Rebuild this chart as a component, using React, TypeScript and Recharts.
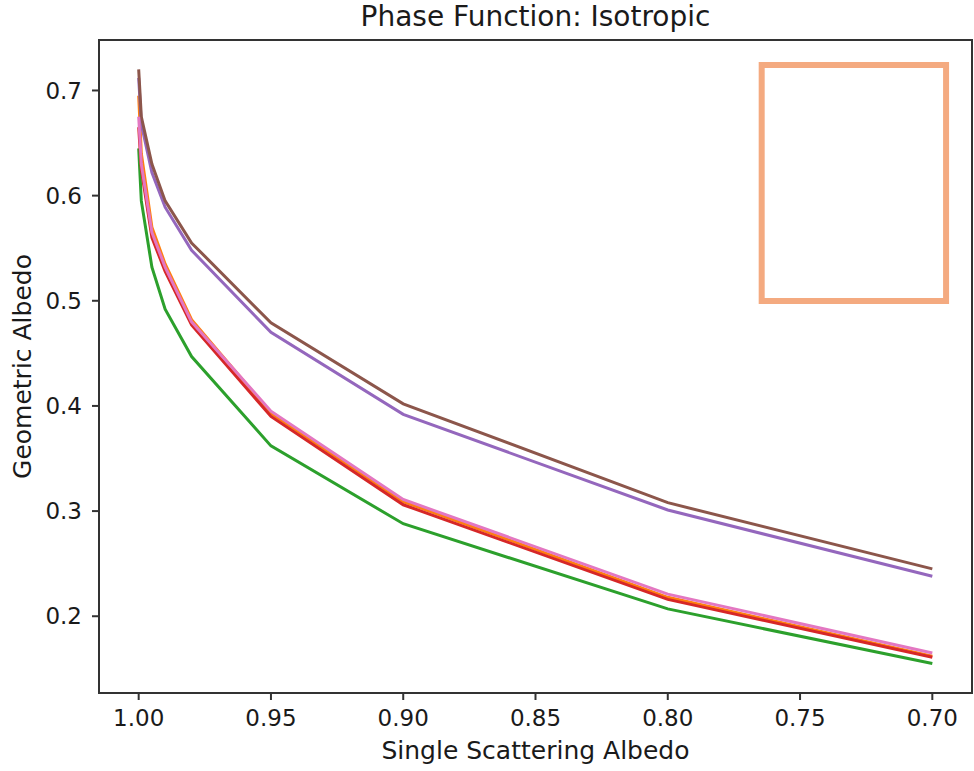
import { LineChart, Line, XAxis, YAxis, ReferenceArea } from 'recharts';

// single scattering albedo (x) sampled points
const ssa = [1.0, 0.999, 0.995, 0.99, 0.98, 0.95, 0.9, 0.8, 0.7];

// geometric albedo per run
const orangeVals = [0.695, 0.64, 0.57, 0.535, 0.482, 0.393, 0.309, 0.218, 0.162];
const greenVals = [0.645, 0.595, 0.532, 0.492, 0.447, 0.362, 0.288, 0.207, 0.155];
const redVals = [0.665, 0.625, 0.56, 0.528, 0.477, 0.39, 0.306, 0.216, 0.161];
const purpleVals = [0.712, 0.668, 0.622, 0.589, 0.548, 0.47, 0.392, 0.301, 0.238];
const brownVals = [0.72, 0.675, 0.63, 0.595, 0.555, 0.479, 0.402, 0.308, 0.245];
const pinkVals = [0.675, 0.63, 0.565, 0.532, 0.48, 0.395, 0.311, 0.221, 0.165];

const xTicks = [1.0, 0.95, 0.9, 0.85, 0.8, 0.75, 0.7];
const yTicks = [0.2, 0.3, 0.4, 0.5, 0.6, 0.7];

const xDomain = [0.685, 1.015];
const yDomain = [0.127, 0.748];

const series = [
  { key: 'orange', color: '#ff7f0e', vals: orangeVals },
  { key: 'green', color: '#2ca02c', vals: greenVals },
  { key: 'red', color: '#d62728', vals: redVals },
  { key: 'purple', color: '#9467bd', vals: purpleVals },
  { key: 'brown', color: '#8c564b', vals: brownVals },
  { key: 'pink', color: '#e377c2', vals: pinkVals },
];

const data = ssa.map((x, i) => {
  const row: Record<string, number> = { x };
  series.forEach(s => {
    row[s.key] = s.vals[i];
  });
  return row;
});

const font = '"DejaVu Sans", sans-serif';
const frame = '#333';
const ink = '#1a1a1a';

export default function App() {
  return (
    <div style={{ position: 'absolute', left: 0, top: 0, width: 974, height: 771, background: '#fff', fontFamily: font }}>
      {/* ===== TITLE ===== */}
      <div
        style={{
          position: 'absolute',
          left: 99,
          width: 873,
          top: 0,
          textAlign: 'center',
          fontSize: 28,
          lineHeight: '34px',
          color: ink,
        }}
      >
        Phase Function: Isotropic
      </div>

      <LineChart
        width={974}
        height={771}
        data={data}
        margin={{ top: 40, right: 2, left: 0, bottom: 0 }}
      >
        <XAxis
          dataKey="x"
          type="number"
          domain={xDomain}
          reversed
          ticks={xTicks}
          tickFormatter={(v: number) => v.toFixed(2)}
          allowDataOverflow
          height={78}
          stroke={frame}
          strokeWidth={2}
          tick={{ fill: ink, fontSize: 23, fontFamily: font }}
          tickSize={7}
          tickMargin={10}
          label={{
            value: 'Single Scattering Albedo',
            position: 'insideBottom',
            offset: 12,
            style: { fill: ink, fontSize: 25, fontFamily: font },
          }}
        />
        <YAxis
          type="number"
          domain={yDomain}
          ticks={yTicks}
          tickFormatter={(v: number) => v.toFixed(1)}
          allowDataOverflow
          width={99}
          stroke={frame}
          strokeWidth={2}
          tick={{ fill: ink, fontSize: 23, fontFamily: font }}
          tickSize={7}
          tickMargin={10}
          label={{
            value: 'Geometric Albedo',
            angle: -90,
            position: 'insideLeft',
            offset: 22,
            style: { textAnchor: 'middle', fill: ink, fontSize: 25, fontFamily: font },
          }}
        />

        {series.map(s => (
          <Line
            key={s.key}
            dataKey={s.key}
            stroke={s.color}
            strokeWidth={3}
            dot={false}
            type="linear"
            isAnimationActive={false}
          />
        ))}

        {/* plot frame */}
        <ReferenceArea
          x1={xDomain[1]}
          x2={xDomain[0]}
          y1={yDomain[0]}
          y2={yDomain[1]}
          fill="none"
          stroke={frame}
          strokeWidth={2}
          ifOverflow="visible"
        />

        {/* empty legend-like box */}
        <ReferenceArea
          x1={0.7645}
          x2={0.6948}
          y1={0.4998}
          y2={0.7242}
          fill="#fff"
          fillOpacity={1}
          stroke="#f4aa80"
          strokeWidth={6}
          ifOverflow="visible"
        />
      </LineChart>
    </div>
  );
}
